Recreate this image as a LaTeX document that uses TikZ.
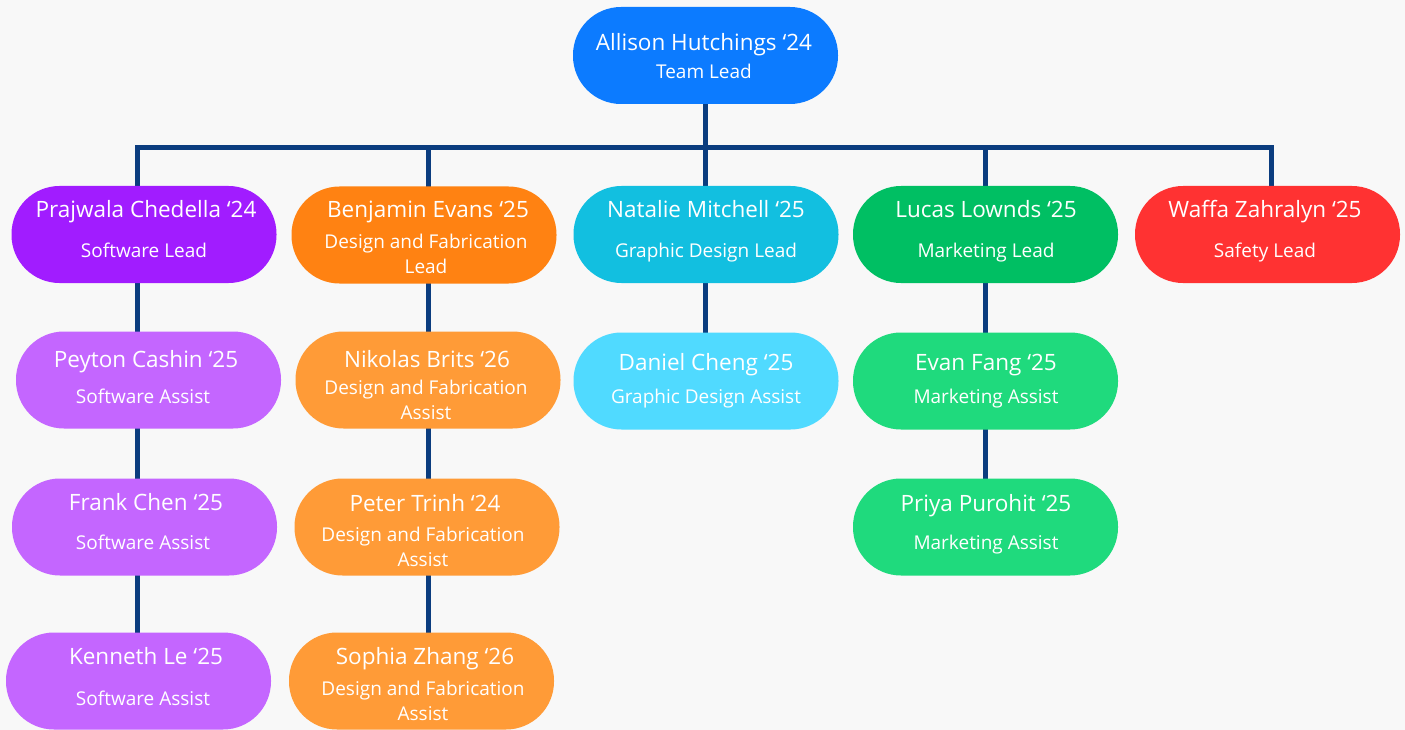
\documentclass[tikz,border=0pt]{standalone}
\usepackage{fontspec}
\setmainfont{Open Sans}
\usetikzlibrary{backgrounds}
\definecolor{bg}{HTML}{F8F8F8}
\definecolor{linec}{HTML}{0B3D7F}
\definecolor{cTop}{HTML}{0C7BFF}
\definecolor{cSW}{HTML}{A11CFF}
\definecolor{cSWa}{HTML}{C466FF}
\definecolor{cDF}{HTML}{FF8212}
\definecolor{cDFa}{HTML}{FF9B37}
\definecolor{cGD}{HTML}{12BFE0}
\definecolor{cGDa}{HTML}{50DAFF}
\definecolor{cMK}{HTML}{00BF63}
\definecolor{cMKa}{HTML}{1FDA7D}
\definecolor{cSF}{HTML}{FF3232}
\begin{document}
\begin{tikzpicture}[x=1pt,y=-1pt,
  box/.style={rounded corners=48pt, minimum width=265pt, minimum height=97pt, inner sep=0pt, draw=none},
  nm/.style={anchor=base, text=white, font=\fontsize{22.5}{26}\selectfont, inner sep=0pt},
  rl/.style={anchor=base, text=white, font=\fontsize{19}{22}\selectfont, inner sep=0pt},
  conn/.style={draw=linec, line width=5pt, miter limit=10}]
\useasboundingbox (0,0) rectangle (1405,730);

% boxes
\node[box, fill=cTop] (allison) at (705.5,55.5) {};
\node[box, fill=cSW] (prajwala) at (144,234.5) {};
\node[box, fill=cDF] (benjamin) at (424,235) {};
\node[box, fill=cGD] (natalie) at (706,234.5) {};
\node[box, fill=cMK] (lucas) at (985.5,234.5) {};
\node[box, fill=cSF] (waffa) at (1267.5,234.5) {};
\node[box, fill=cSWa] (peyton) at (148.5,380) {};
\node[box, fill=cDFa] (nikolas) at (428,380) {};
\node[box, fill=cGDa] (daniel) at (706,381) {};
\node[box, fill=cMKa] (evan) at (985.5,381) {};
\node[box, fill=cSWa] (frank) at (144.5,527) {};
\node[box, fill=cDFa] (peter) at (427,527) {};
\node[box, fill=cMKa] (priya) at (985.5,527) {};
\node[box, fill=cSWa] (kenneth) at (138.5,681) {};
\node[box, fill=cDFa] (sophia) at (421.5,681) {};

% texts
\node[nm] (allison-n) at (704,51) {Allison Hutchings ‘24};
\node[rl] (allison-r) at (704,79) {Team Lead};
\node[nm] (prajwala-n) at (146,218) {Prajwala Chedella ‘24};
\node[rl] (prajwala-r) at (144,257) {Software Lead};
\node[nm] (benjamin-n) at (428,218) {Benjamin Evans ‘25};
\node[rl] (benjamin-r1) at (426,248) {Design and Fabrication};
\node[rl] (benjamin-r2) at (426,273) {Lead};
\node[nm] (natalie-n) at (706,218) {Natalie Mitchell ‘25};
\node[rl] (natalie-r) at (706,257) {Graphic Design Lead};
\node[nm] (lucas-n) at (986,218) {Lucas Lownds ‘25};
\node[rl] (lucas-r) at (986,257) {Marketing Lead};
\node[nm] (waffa-n) at (1265,218) {Waffa Zahralyn ‘25};
\node[rl] (waffa-r) at (1265,257) {Safety Lead};
\node[nm] (peyton-n) at (146,367) {Peyton Cashin ‘25};
\node[rl] (peyton-r) at (143,403) {Software Assist};
\node[nm] (nikolas-n) at (427,367) {Nikolas Brits ‘26};
\node[rl] (nikolas-r1) at (426,394) {Design and Fabrication};
\node[rl] (nikolas-r2) at (426,419) {Assist};
\node[nm] (daniel-n) at (706,370) {Daniel Cheng ‘25};
\node[rl] (daniel-r) at (706,403) {Graphic Design Assist};
\node[nm] (evan-n) at (986,370) {Evan Fang ‘25};
\node[rl] (evan-r) at (986,403) {Marketing Assist};
\node[nm] (frank-n) at (146,510) {Frank Chen ‘25};
\node[rl] (frank-r) at (143,549) {Software Assist};
\node[nm] (peter-n) at (425,511) {Peter Trinh ‘24};
\node[rl] (peter-r1) at (423,541) {Design and Fabrication};
\node[rl] (peter-r2) at (423,566) {Assist};
\node[nm] (priya-n) at (986,511) {Priya Purohit ‘25};
\node[rl] (priya-r) at (986,549) {Marketing Assist};
\node[nm] (kenneth-n) at (146,664) {Kenneth Le ‘25};
\node[rl] (kenneth-r) at (143,705) {Software Assist};
\node[nm] (sophia-n) at (425,664) {Sophia Zhang ‘26};
\node[rl] (sophia-r1) at (423,695) {Design and Fabrication};
\node[rl] (sophia-r2) at (423,720) {Assist};

% connectors
\coordinate (busL) at (137,148);
\coordinate (busB) at (428,148);
\coordinate (busC) at (705,148);
\coordinate (busM) at (985,148);
\coordinate (busR) at (1271,148);
\begin{scope}[on background layer]
\fill[bg] (0,0) rectangle (1405,730);
\draw[conn] (busL |- kenneth.center) -- (busL) -- (busR) -- (busR |- waffa.center);
\draw[conn] (allison.center -| busC) -- (busC) -- (busC |- daniel.center);
\draw[conn] (busB) -- (busB |- sophia.center);
\draw[conn] (busM) -- (busM |- priya.center);
\end{scope}
\end{tikzpicture}
\end{document}
